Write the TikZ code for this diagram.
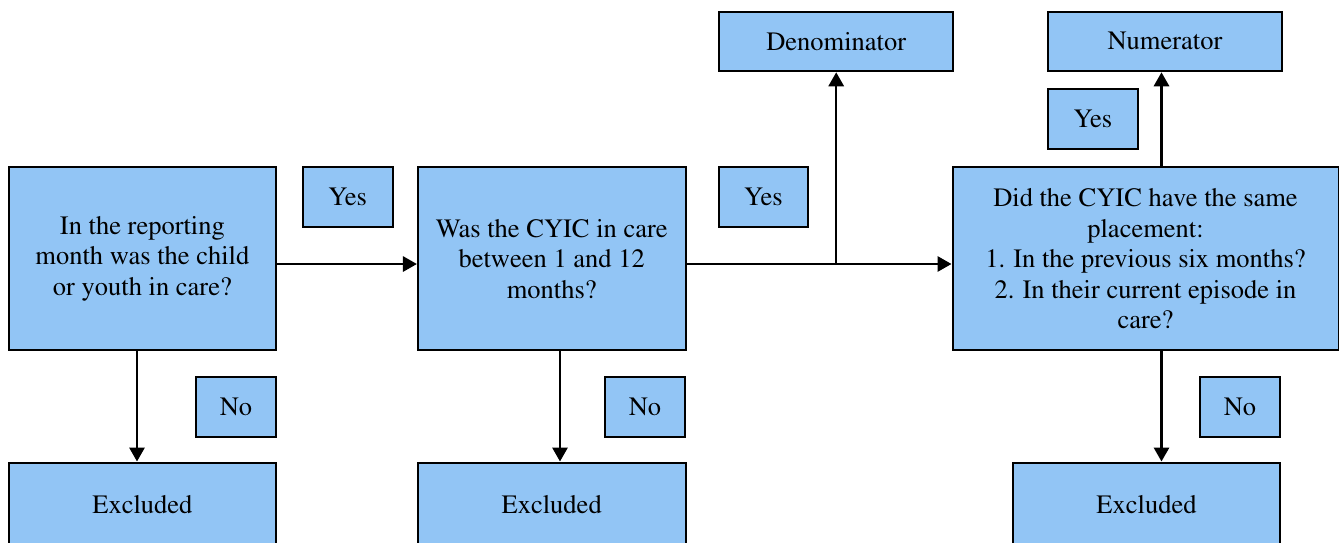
\documentclass[tikz,border=0pt]{standalone}
\usepackage[T1]{fontenc}
\usepackage{times}
\usetikzlibrary{arrows.meta}
\definecolor{boxblue}{RGB}{146,197,245}

\begin{document}
\begin{tikzpicture}[x=0.5pt, y=-0.5pt,
  every node/.style = {shape=rectangle,
    draw, align=center, fill=boxblue,
    line width=1pt, inner sep=0pt,
    font=\fontsize{13.25}{15.3}\selectfont},
  bigbox/.style = {minimum width=133.8pt, minimum height=91.5pt},
  endbox/.style = {minimum width=117.2pt, minimum height=29.8pt},
  exbox/.style = {minimum width=133.8pt, minimum height=42.5pt},
  yesbox/.style = {minimum width=44.8pt, minimum height=30pt},
  nobox/.style = {minimum width=40.3pt, minimum height=30pt},
  arr/.style = {line width=1.25pt, -{Triangle[length=7pt,width=7.6pt]}}]
  \useasboundingbox (0,0) rectangle (1339,542);
  % questions
  \node[bigbox] (inCare) at (142.4,258.8)
    {In the reporting\\month was the child\\or youth in care?};
  \node[bigbox] (oneTwelve) at (551.7,258.8)
    {Was the CYIC in care\\between 1 and 12\\months?};
  \node[bigbox, minimum width=193pt] (samePlace) at (1145.5,258.8)
    {Did the CYIC have the same\\placement:\\1. In the previous six months?\\2. In their current episode in\\care?};
  % results
  \node[endbox] (denom) at (836.2,41.5) {Denominator};
  \node[endbox] (numer) at (1165,41.5) {Numerator};
  \node[exbox] (excl1) at (142.4,505) {Excluded};
  \node[exbox] (excl2) at (551.7,505) {Excluded};
  \node[exbox] (excl3) at (1146.5,505) {Excluded};
  % yes / no tags
  \node[yesbox] (yes1) at (347.7,197.3) {Yes};
  \node[yesbox] (yes2) at (763.4,197.3) {Yes};
  \node[yesbox] (yes3) at (1092.9,118.8) {Yes};
  \node[nobox] (no1) at (236,407.2) {No};
  \node[nobox] (no2) at (645,407.2) {No};
  \node[nobox] (no3) at (1240,407.2) {No};
  % connectors
  \coordinate (row) at (0,264);
  \coordinate (colA) at (137,0);
  \coordinate (colB) at (560,0);
  \coordinate (colC) at (1161.5,0);
  \draw[arr] (inCare.east |- row) -- (oneTwelve.west |- row);
  \draw[arr] (oneTwelve.east |- row) -- (samePlace.west |- row);
  \draw[arr] (denom.south |- row) -- (denom.south);
  \draw[arr] (samePlace.north -| colC) -- (numer.south -| colC);
  \draw[arr] (inCare.south -| colA) -- (excl1.north -| colA);
  \draw[arr] (oneTwelve.south -| colB) -- (excl2.north -| colB);
  \draw[arr] (samePlace.south -| colC) -- (excl3.north -| colC);
\end{tikzpicture}
\end{document}
